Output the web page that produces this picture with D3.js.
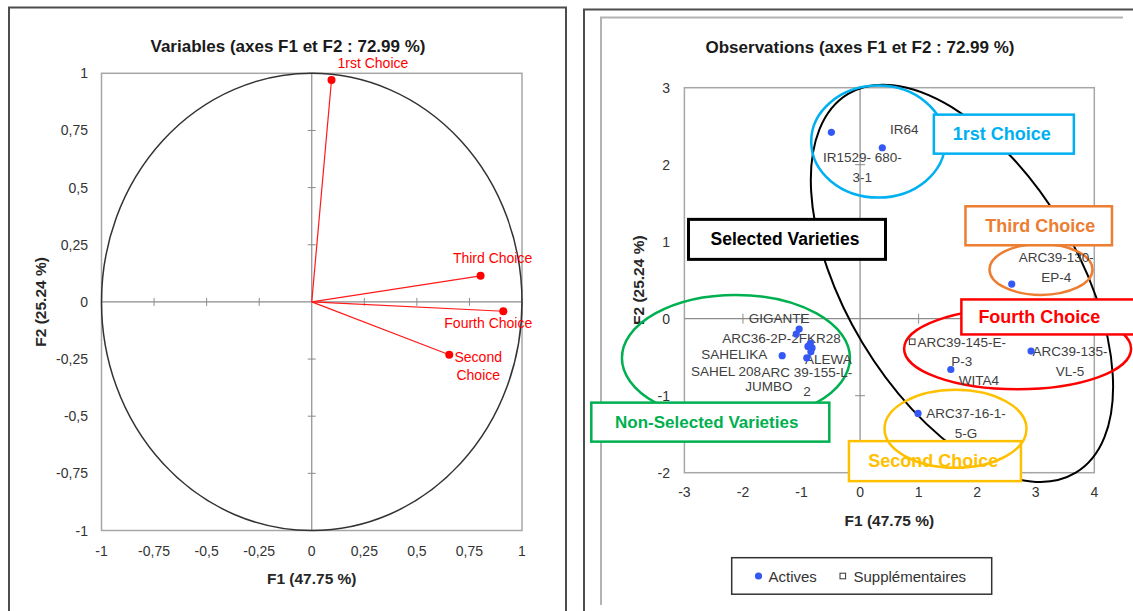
<!DOCTYPE html>
<html><head><meta charset="utf-8">
<script src="https://cdn.jsdelivr.net/npm/d3@7"></script>
<style>
body{margin:0;background:#fff;}
svg{display:block;font-family:"Liberation Sans",Arial,sans-serif;}
</style>
</head><body>
<svg id="c" width="1133" height="611"></svg>
<script>
// ---------- DATA ----------
const varNames = ["1rst Choice", "Second Choice", "Third Choice", "Fourth Choice"];
const varF1 = [0.094, 0.654, 0.803, 0.911];
const varF2 = [0.971, -0.231, 0.114, -0.041];

const obsNames = ["IR1529-680-3-1", "IR64", "ARC39-130-EP-4", "ARC39-135-VL-5", "WITA4",
  "ARC37-16-1-5-G", "ARC39-145-E-P-3", "GIGANTE", "ARC36-2P-2", "FKR28", "ALEWA",
  "ARC 39-155-L-2", "JUMBO", "SAHELIKA", "SAHEL 208"];
const obsF1 = [-0.49, 0.38, 2.59, 2.92, 1.55, 0.99, 0.89, -1.04, -1.09, -0.85, -0.82, -0.84, -0.91, -1.33, -0.89];
const obsF2 = [2.42, 2.22, 0.45, -0.42, -0.66, -1.23, -0.30, -0.135, -0.20, -0.32, -0.38, -0.43, -0.51, -0.48, -0.36];
const obsType = ["Actives", "Actives", "Actives", "Actives", "Actives", "Actives", "Supplémentaires",
  "Actives", "Actives", "Actives", "Actives", "Actives", "Actives", "Actives", "Actives"];

const leftTicks = [-1, -0.75, -0.5, -0.25, 0, 0.25, 0.5, 0.75, 1];
const rightXTicks = [-3, -2, -1, 0, 1, 2, 3, 4];
const rightYTicks = [-2, -1, 0, 1, 2, 3];
const legendItems = ["Actives", "Supplémentaires"];

// ---------- LAYOUT ----------
const varLabelLayout = {
  "1rst Choice": {lines: ["1rst Choice"], dx: 6, dy: -17, anchor: "start"},
  "Second Choice": {lines: ["Second", "Choice"], dx: 29, dy: 2.4, anchor: "middle"},
  "Third Choice": {lines: ["Third Choice"], dx: 12, dy: -18, anchor: "middle"},
  "Fourth Choice": {lines: ["Fourth Choice"], dx: -15, dy: 12, anchor: "middle"}
};
const obsLabelLayout = {
  "IR1529-680-3-1": {lines: ["IR1529- 680-", "3-1"], dx: 31, dy: 25},
  "IR64": {lines: ["IR64"], dx: 22, dy: -19},
  "ARC39-130-EP-4": {lines: ["ARC39-130-", "EP-4"], dx: 44.5, dy: -27},
  "ARC39-135-VL-5": {lines: ["ARC39-135-", "VL-5"], dx: 39, dy: 0},
  "WITA4": {lines: ["WITA4"], dx: 28, dy: 10.5},
  "ARC37-16-1-5-G": {lines: ["ARC37-16-1-", "5-G"], dx: 48, dy: 0},
  "ARC39-145-E-P-3": {lines: ["ARC39-145-E-", "P-3"], dx: 49.6, dy: 0},
  "GIGANTE": {lines: ["GIGANTE"], dx: -20, dy: -10.7},
  "ARC36-2P-2": {lines: ["ARC36-2P-2"], dx: -35.7, dy: 4.3},
  "FKR28": {lines: ["FKR28"], dx: 9.4, dy: -5},
  "ALEWA": {lines: ["ALEWA"], dx: 16.3, dy: 11},
  "ARC 39-155-L-2": {lines: ["ARC 39-155-L-", "2"], dx: -4, dy: 20},
  "JUMBO": {lines: ["JUMBO"], dx: -38, dy: 28},
  "SAHELIKA": {lines: ["SAHELIKA"], dx: -48, dy: -1.6},
  "SAHEL 208": {lines: ["SAHEL 208"], dx: -82, dy: 25}
};

const svg = d3.select("#c");
const fmt = d => String(d).replace(".", ",");

// ---------- PANEL FRAMES ----------
svg.append("rect").attr("x", 9).attr("y", 7.5).attr("width", 557).attr("height", 640)
  .attr("fill", "none").attr("stroke", "#4d4d4d").attr("stroke-width", 2);
svg.append("rect").attr("x", 584).attr("y", 9.5).attr("width", 640).attr("height", 640)
  .attr("fill", "none").attr("stroke", "#4d4d4d").attr("stroke-width", 2);
svg.append("path").attr("d", "M601,605V17.5H1123").attr("fill", "none")
  .attr("stroke", "#b3b3b3").attr("stroke-width", 2);

// ---------- LEFT: VARIABLES ----------
const xL = d3.scaleLinear().domain([-1, 1]).range([101.5, 522]);
const yL = d3.scaleLinear().domain([-1, 1]).range([530.5, 73.3]);
const gL = svg.append("g");

gL.append("text").attr("x", 288).attr("y", 46).attr("text-anchor", "middle")
  .attr("dominant-baseline", "central").attr("font-size", 17).attr("font-weight", "bold")
  .attr("fill", "#1a1a1a").text("Variables (axes F1 et F2 : 72.99 %)");

gL.append("rect").attr("x", xL(-1)).attr("y", yL(1)).attr("width", xL(1) - xL(-1))
  .attr("height", yL(-1) - yL(1)).attr("fill", "none").attr("stroke", "#a6a6a6").attr("stroke-width", 1.5);
gL.append("line").attr("x1", xL(-1)).attr("x2", xL(1)).attr("y1", yL(0)).attr("y2", yL(0))
  .attr("stroke", "#8c8c8c").attr("stroke-width", 1.2);
gL.append("line").attr("x1", xL(0)).attr("x2", xL(0)).attr("y1", yL(1)).attr("y2", yL(-1))
  .attr("stroke", "#8c8c8c").attr("stroke-width", 1.2);
gL.selectAll(".xt").data(leftTicks.filter(d => d !== 0)).join("line")
  .attr("x1", d => xL(d)).attr("x2", d => xL(d)).attr("y1", yL(0) - 4).attr("y2", yL(0) + 4)
  .attr("stroke", "#8c8c8c");
gL.selectAll(".yt").data(leftTicks.filter(d => d !== 0)).join("line")
  .attr("y1", d => yL(d)).attr("y2", d => yL(d)).attr("x1", xL(0) - 4).attr("x2", xL(0) + 4)
  .attr("stroke", "#8c8c8c");
gL.selectAll(".xl").data(leftTicks).join("text")
  .attr("x", d => xL(d)).attr("y", 550.5).attr("text-anchor", "middle").attr("dominant-baseline", "central")
  .attr("font-size", 14).attr("fill", "#333").text(fmt);
gL.selectAll(".yl").data(leftTicks).join("text")
  .attr("x", 88).attr("y", d => yL(d)).attr("text-anchor", "end").attr("dominant-baseline", "central")
  .attr("font-size", 14).attr("fill", "#333").text(fmt);
gL.append("text").attr("x", xL(0)).attr("y", 578).attr("text-anchor", "middle")
  .attr("dominant-baseline", "central").attr("font-size", 15.5).attr("font-weight", "bold")
  .attr("fill", "#262626").text("F1 (47.75 %)");
gL.append("text").attr("transform", `translate(40,${yL(0)}) rotate(-90)`).attr("text-anchor", "middle")
  .attr("dominant-baseline", "central").attr("font-size", 15.5).attr("font-weight", "bold")
  .attr("fill", "#262626").text("F2 (25.24 %)");

gL.append("ellipse").attr("cx", xL(0)).attr("cy", yL(0)).attr("rx", xL(1) - xL(0)).attr("ry", yL(0) - yL(1))
  .attr("fill", "none").attr("stroke", "#333").attr("stroke-width", 1.5);

const vars = varNames.map((n, i) => ({name: n, x: varF1[i], y: varF2[i]}));
gL.selectAll(".vec").data(vars).join("line")
  .attr("x1", xL(0)).attr("y1", yL(0)).attr("x2", d => xL(d.x)).attr("y2", d => yL(d.y))
  .attr("stroke", "#ff1a1a").attr("stroke-width", 1.2);
gL.selectAll(".vpt").data(vars).join("circle")
  .attr("cx", d => xL(d.x)).attr("cy", d => yL(d.y)).attr("r", 4).attr("fill", "#ff0000");
vars.forEach(d => {
  const L = varLabelLayout[d.name];
  const t = gL.append("text").attr("font-size", 14).attr("fill", "#ff0000")
    .attr("text-anchor", L.anchor).attr("dominant-baseline", "central");
  L.lines.forEach((ln, k) => {
    t.append("tspan").attr("x", xL(d.x) + L.dx).attr("y", yL(d.y) + L.dy + k * 18.3).text(ln);
  });
});

// ---------- RIGHT: OBSERVATIONS ----------
const xR = d3.scaleLinear().domain([-3, 4]).range([684.4, 1094.3]);
const yR = d3.scaleLinear().domain([-2, 3]).range([472.7, 87.7]);
const gR = svg.append("g");

gR.append("text").attr("x", 860).attr("y", 47.5).attr("text-anchor", "middle")
  .attr("dominant-baseline", "central").attr("font-size", 17).attr("font-weight", "bold")
  .attr("fill", "#1a1a1a").text("Observations (axes F1 et F2 : 72.99 %)");

gR.append("rect").attr("x", xR(-3)).attr("y", yR(3)).attr("width", xR(4) - xR(-3))
  .attr("height", yR(-2) - yR(3)).attr("fill", "none").attr("stroke", "#a6a6a6").attr("stroke-width", 1.5);
gR.append("line").attr("x1", xR(-3)).attr("x2", xR(4)).attr("y1", yR(0)).attr("y2", yR(0))
  .attr("stroke", "#8c8c8c").attr("stroke-width", 1.2);
gR.append("line").attr("x1", xR(0)).attr("x2", xR(0)).attr("y1", yR(3)).attr("y2", yR(-2))
  .attr("stroke", "#8c8c8c").attr("stroke-width", 1.2);
gR.selectAll(".xt").data(rightXTicks.filter(d => d !== 0 && d !== -3 && d !== 4)).join("line")
  .attr("x1", d => xR(d)).attr("x2", d => xR(d)).attr("y1", yR(0) - 5).attr("y2", yR(0) + 5)
  .attr("stroke", "#8c8c8c");
gR.selectAll(".yt").data(rightYTicks.filter(d => d !== 0 && d !== -2 && d !== 3)).join("line")
  .attr("y1", d => yR(d)).attr("y2", d => yR(d)).attr("x1", xR(0) - 5).attr("x2", xR(0) + 5)
  .attr("stroke", "#8c8c8c");
gR.selectAll(".xl").data(rightXTicks).join("text")
  .attr("x", d => xR(d)).attr("y", 492).attr("text-anchor", "middle").attr("dominant-baseline", "central")
  .attr("font-size", 14).attr("fill", "#333").text(fmt);
gR.selectAll(".yl").data(rightYTicks).join("text")
  .attr("x", 670).attr("y", d => yR(d)).attr("text-anchor", "end").attr("dominant-baseline", "central")
  .attr("font-size", 14).attr("fill", "#333").text(fmt);
gR.append("text").attr("x", (xR(-3) + xR(4)) / 2).attr("y", 520).attr("text-anchor", "middle")
  .attr("dominant-baseline", "central").attr("font-size", 15.5).attr("font-weight", "bold")
  .attr("fill", "#262626").text("F1 (47.75 %)");
gR.append("text").attr("transform", `translate(638,${(yR(3) + yR(-2)) / 2}) rotate(-90)`).attr("text-anchor", "middle")
  .attr("dominant-baseline", "central").attr("font-size", 15.5).attr("font-weight", "bold")
  .attr("fill", "#262626").text("F2 (25.24 %)");

// annotation shapes (centres in data units, radii in px)
const groupEllipses = [
  {cx: 1.74, cy: 0.46, rx: 221, ry: 116, rot: 59, color: "#000000", sw: 2},
  {cx: -2.12, cy: -0.51, rx: 114, ry: 63, rot: 0, color: "#00b050", sw: 2.5},
  {cx: 0.31, cy: 2.30, rx: 67, ry: 56, rot: 0, color: "#00b0f0", sw: 2.5},
  {cx: 3.09, cy: 0.64, rx: 51.5, ry: 25.5, rot: 0, color: "#ed7d31", sw: 2.5},
  {cx: 2.69, cy: -0.39, rx: 113.5, ry: 40.5, rot: 0, color: "#ff0000", sw: 2.5}
];
const topEllipses = [
  {cx: 1.63, cy: -1.43, rx: 71, ry: 39, rot: 0, color: "#ffc000", sw: 2.5}
];
const groupBoxes = [
  {x: -2.93, y: 1.29, w: 197, h: 40, color: "#000000", text: "Selected Varieties", fs: 17.5, tx: 0.49},
  {x: -4.59, y: -1.09, w: 238, h: 39, color: "#00b050", text: "Non-Selected Varieties", fs: 17, tx: 0.485},
  {x: 1.26, y: 2.65, w: 140, h: 39, color: "#00b0f0", text: "1rst Choice", fs: 18, tx: 0.485},
  {x: 1.80, y: 1.46, w: 146.5, h: 39, color: "#ed7d31", text: "Third Choice", fs: 18, tx: 0.51},
  {x: 1.73, y: 0.25, w: 200, h: 35, color: "#ff0000", text: "Fourth Choice", fs: 18, tx: 0.39},
  {x: -0.19, y: -1.59, w: 172, h: 40, color: "#ffc000", text: "Second Choice", fs: 18, tx: 0.49}
];

const drawEllipses = arr => gR.selectAll(null).data(arr).join("ellipse")
  .attr("cx", 0).attr("cy", 0).attr("rx", d => d.rx).attr("ry", d => d.ry)
  .attr("transform", d => `translate(${xR(d.cx)},${yR(d.cy)}) rotate(${d.rot})`)
  .attr("fill", "none").attr("stroke", d => d.color).attr("stroke-width", d => d.sw);
drawEllipses(groupEllipses);

const bx = gR.selectAll(null).data(groupBoxes).join("g");
bx.append("rect").attr("x", d => xR(d.x)).attr("y", d => yR(d.y)).attr("width", d => d.w).attr("height", d => d.h)
  .attr("fill", "#fff").attr("stroke", d => d.color).attr("stroke-width", d => d.color === "#000000" ? 3 : 2.5);
bx.append("text").attr("x", d => xR(d.x) + d.w * d.tx).attr("y", d => yR(d.y) + d.h / 2)
  .attr("text-anchor", "middle").attr("dominant-baseline", "central")
  .attr("font-size", d => d.fs).attr("font-weight", "bold").attr("fill", d => d.color).text(d => d.text);

drawEllipses(topEllipses);

const obs = obsNames.map((n, i) => ({name: n, x: obsF1[i], y: obsF2[i], type: obsType[i]}));
obs.forEach(d => {
  const L = obsLabelLayout[d.name];
  const t = gR.append("text").attr("font-size", 13.5).attr("fill", "#404040")
    .attr("text-anchor", "middle").attr("dominant-baseline", "central");
  L.lines.forEach((ln, k) => {
    t.append("tspan").attr("x", xR(d.x) + L.dx).attr("y", yR(d.y) + L.dy + k * 19.5).text(ln);
  });
});
gR.selectAll(".act").data(obs.filter(d => d.type === "Actives")).join("circle")
  .attr("cx", d => xR(d.x)).attr("cy", d => yR(d.y)).attr("r", 3.6).attr("fill", "#3358f4");
gR.selectAll(".sup").data(obs.filter(d => d.type === "Supplémentaires")).join("rect")
  .attr("x", d => xR(d.x) - 2.8).attr("y", d => yR(d.y) - 2.8).attr("width", 5.6).attr("height", 5.6)
  .attr("fill", "#fff").attr("stroke", "#333").attr("stroke-width", 1);

// legend
const lg = gR.append("g");
lg.append("rect").attr("x", 731.7).attr("y", 557.7).attr("width", 260).attr("height", 36.5)
  .attr("fill", "#fff").attr("stroke", "#333").attr("stroke-width", 1.5);
lg.append("circle").attr("cx", 758.5).attr("cy", 576).attr("r", 3.6).attr("fill", "#3358f4");
lg.append("text").attr("x", 768.5).attr("y", 576).attr("dominant-baseline", "central")
  .attr("font-size", 15).attr("fill", "#333").text(legendItems[0]);
lg.append("rect").attr("x", 840).attr("y", 573.2).attr("width", 5.6).attr("height", 5.6)
  .attr("fill", "#fff").attr("stroke", "#333");
lg.append("text").attr("x", 853.5).attr("y", 576).attr("dominant-baseline", "central")
  .attr("font-size", 15).attr("fill", "#333").text(legendItems[1]);
</script>
</body></html>
